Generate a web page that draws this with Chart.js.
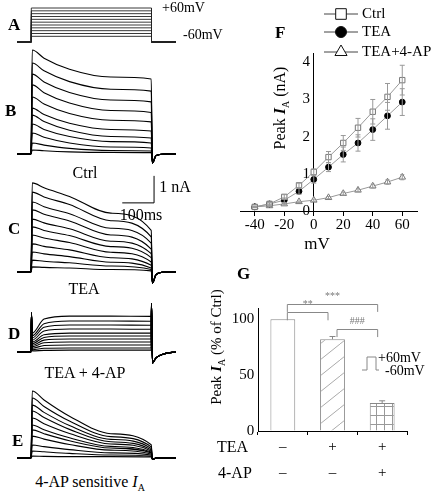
<!DOCTYPE html>
<html>
<head>
<meta charset="utf-8">
<script src="https://cdn.jsdelivr.net/npm/chart.js@4.4.1/dist/chart.umd.min.js"></script>
<style>
  html, body { margin: 0; padding: 0; background: #fff; }
  #fig { position: relative; width: 435px; height: 503px; overflow: hidden; font-family: 'Liberation Serif', 'Times New Roman', serif; color: #000; }
  #fig div { font-family: 'Liberation Serif', 'Times New Roman', serif; }
  #fig canvas { position: absolute; }
  .t { position: absolute; white-space: nowrap; font-size: 16px; line-height: 1; transform: translate(-50%, -50%); }
  .l { position: absolute; white-space: nowrap; font-size: 14px; line-height: 1; transform: translate(0, -50%); }
  .p { position: absolute; font-weight: bold; font-size: 17px; line-height: 1; transform: translate(0, -50%); }
  .yt { position: absolute; white-space: nowrap; font-size: 16px; line-height: 1; transform: translate(-50%, -50%) rotate(-90deg); }
  sub { font-size: 10px; vertical-align: -4px; line-height: 0; }
</style>
</head>
<body>
<div id="fig">
  <canvas id="cA"></canvas>
  <canvas id="cB"></canvas>
  <canvas id="cC"></canvas>
  <canvas id="cD"></canvas>
  <canvas id="cE"></canvas>
  <canvas id="cF"></canvas>
  <canvas id="cG"></canvas>

  <!-- panel letters -->
  <div class="p" style="left:8px;top:24px">A</div>
  <div class="p" style="left:5px;top:110px">B</div>
  <div class="p" style="left:8px;top:228px">C</div>
  <div class="p" style="left:8px;top:333px">D</div>
  <div class="p" style="left:12px;top:440px">E</div>
  <div class="p" style="left:275px;top:32px">F</div>
  <div class="p" style="left:237px;top:273px">G</div>

  <!-- left column text -->
  <div class="l" style="left:162px;top:8px">+60mV</div>
  <div class="l" style="left:183px;top:35px">-60mV</div>
  <div class="t" style="left:85px;top:173px">Ctrl</div>
  <div class="t" style="left:175px;top:187px">1 nA</div>
  <div class="t" style="left:141px;top:215px">100ms</div>
  <div class="t" style="left:84px;top:289px">TEA</div>
  <div class="t" style="left:85px;top:373px">TEA + 4-AP</div>
  <div class="t" style="left:90px;top:482px">4-AP sensitive <i>I</i><sub>A</sub></div>

  <!-- F / G titles -->
  <div class="yt" style="left:280px;top:108px">Peak <b><i>I</i></b><sub>A</sub> (nA)</div>
  <div class="t" style="left:317px;top:243px;font-size:17px">mV</div>
  <div class="yt" style="left:216px;top:347px;font-size:15px">Peak <b><i>I</i></b><sub>A</sub> (% of Ctrl)</div>
  <div class="l" style="left:217px;top:447px;font-size:16px">TEA</div>
  <div class="l" style="left:218px;top:473px;font-size:16px">4-AP</div>

  <!-- G inset protocol -->
  <svg style="position:absolute;left:0;top:0" width="435" height="503">
    <polyline points="362,370 367,370 367,357 376,357 376,370 379,370" fill="none" stroke="#888" stroke-width="1"/>
  </svg>
  <div class="l" style="left:378px;top:358px">+60mV</div>
  <div class="l" style="left:385px;top:371px">-60mV</div>
</div>

<script>
// ---------- data ----------
const STEP_MV = [-40, -30, -20, -10, 0, 10, 20, 30, 40, 50, 60];
const HOLD_MV = -60;
const STEP_ON = 0, STEP_OFF = 378;        // ms
const T_START = -45, T_END = 455;         // ms shown in A-E
const SAMPLE_T = [3, 40, 120, 250, 377];  // ms where currents were read
const TAIL_T = [381, 392, 420];

// currents (nA) at SAMPLE_T, one row per step (STEP_MV order)
const ctrlTraces = [
  [0.15, 0.12, 0.08, 0.06, 0.05],
  [0.41, 0.33, 0.21, 0.13, 0.11],
  [0.78, 0.62, 0.41, 0.26, 0.22],
  [1.11, 0.91, 0.65, 0.46, 0.41],
  [1.44, 1.20, 0.88, 0.65, 0.59],
  [1.70, 1.46, 1.14, 0.91, 0.85],
  [2.11, 1.85, 1.50, 1.25, 1.19],
  [2.56, 2.27, 1.89, 1.61, 1.54],
  [2.96, 2.67, 2.28, 2.00, 1.93],
  [3.37, 3.08, 2.68, 2.40, 2.33],
  [3.85, 3.55, 3.14, 2.85, 2.78]
];
const teaTraces = [
  [0.19, 0.17, 0.15, 0.09, 0.04],
  [0.44, 0.40, 0.34, 0.22, 0.09],
  [0.74, 0.67, 0.57, 0.36, 0.15],
  [1.04, 0.95, 0.82, 0.53, 0.25],
  [1.37, 1.26, 1.09, 0.73, 0.37],
  [1.67, 1.54, 1.35, 0.94, 0.53],
  [1.96, 1.82, 1.60, 1.14, 0.68],
  [2.30, 2.14, 1.89, 1.37, 0.85],
  [2.59, 2.42, 2.16, 1.62, 1.07],
  [2.96, 2.78, 2.50, 1.90, 1.30],
  [3.30, 3.12, 2.80, 2.18, 1.54]
];
const tea4apTraces = [
  [0.04, 0.06, 0.07, 0.07, 0.07],
  [0.08, 0.14, 0.15, 0.15, 0.15],
  [0.14, 0.24, 0.26, 0.26, 0.26],
  [0.20, 0.34, 0.37, 0.37, 0.37],
  [0.25, 0.44, 0.48, 0.48, 0.48],
  [0.31, 0.54, 0.59, 0.59, 0.59],
  [0.37, 0.64, 0.70, 0.70, 0.70],
  [0.44, 0.78, 0.85, 0.85, 0.84],
  [0.52, 0.92, 1.00, 1.00, 0.99],
  [0.60, 1.05, 1.15, 1.15, 1.14],
  [0.70, 1.22, 1.33, 1.33, 1.32]
];
const sensTraces = [
  [0.07, 0.06, 0.05, 0.05, 0.04],
  [0.26, 0.23, 0.17, 0.11, 0.07],
  [0.48, 0.42, 0.31, 0.19, 0.11],
  [0.81, 0.70, 0.50, 0.29, 0.15],
  [1.04, 0.90, 0.64, 0.37, 0.19],
  [1.22, 1.05, 0.75, 0.43, 0.22],
  [1.48, 1.27, 0.91, 0.52, 0.26],
  [1.74, 1.50, 1.06, 0.60, 0.30],
  [1.96, 1.69, 1.20, 0.69, 0.35],
  [2.22, 1.91, 1.37, 0.79, 0.41],
  [2.48, 2.15, 1.55, 0.90, 0.49]
];
const ctrlTail = [-0.33, -0.06, 0];
const teaTail = [-0.41, -0.10, 0];
const tea4apTail = [-0.41, -0.22, -0.06];
const sensTail = [-0.05, 0, 0];
const tea4apCap = [1.45, 1.8];   // capacitive transients at step on / off

// panel F: peak I_A (nA) vs step potential
const ctrlPeak = [0.11, 0.19, 0.38, 0.69, 1.05, 1.45, 1.83, 2.24, 2.67, 3.07, 3.52];
const ctrlErr = [0.02, 0.03, 0.06, 0.06, 0.08, 0.15, 0.20, 0.25, 0.33, 0.36, 0.40];
const teaPeak = [0.11, 0.19, 0.29, 0.53, 0.85, 1.18, 1.52, 1.83, 2.19, 2.56, 2.93];
const teaErr = [0.02, 0.03, 0.06, 0.08, 0.10, 0.12, 0.20, 0.22, 0.29, 0.36, 0.36];
const tea4apPeak = [0.11, 0.14, 0.19, 0.25, 0.29, 0.36, 0.47, 0.56, 0.67, 0.78, 0.91];
const tea4apErr = [0.01, 0.02, 0.02, 0.02, 0.03, 0.03, 0.04, 0.04, 0.05, 0.06, 0.07];
const FX_TICKS = [-40, -20, 0, 20, 40, 60];
const FY_TICKS = [0, 1, 2, 3, 4];

// panel G: peak I_A (% of Ctrl)
const teaRow = ['\u2013', '+', '+'];
const apRow = ['\u2013', '\u2013', '+'];
const gPeak = [100, 82, 25];
const gErr = [0, 2.5, 2];
const GY_TICKS = [0, 50, 100];
const sigPairs = [
  { from: 0, to: 2, y: 114, leg: 106.5, text: '***' },
  { from: 0, to: 1, y: 106, leg: 99, text: '**' },
  { from: 1, to: 2, y: 91, leg: 84, text: '###' }
];
const SCALE_BAR = { t: 386, ms: 100, i: 2.56, nA: 1 };

// ---------- layout ----------
const SERIF = "'Liberation Serif', 'Times New Roman', serif";
Chart.defaults.font.family = SERIF;
Chart.defaults.color = '#000';

const PX_PER_NA = 27;
const TRACE_LEFT = 17, TRACE_W = 159;

function placeCanvas(id, left, top, w, h) {
  const c = document.getElementById(id);
  c.width = w; c.height = h;
  c.style.left = left + 'px'; c.style.top = top + 'px';
  c.style.width = w + 'px'; c.style.height = h + 'px';
  return c;
}

const baseOpts = (yMin, yMax) => ({
  responsive: false,
  animation: false,
  events: [],
  layout: { padding: 0 },
  plugins: { legend: { display: false }, tooltip: { enabled: false } },
  scales: {
    x: { type: 'linear', display: false, min: T_START, max: T_END },
    y: { type: 'linear', display: false, min: yMin, max: yMax }
  }
});

// A: voltage protocol
const protoSets = STEP_MV.map(v => ({
  data: [
    { x: T_START, y: HOLD_MV }, { x: STEP_ON, y: HOLD_MV }, { x: STEP_ON, y: v },
    { x: STEP_OFF, y: v }, { x: STEP_OFF, y: HOLD_MV }, { x: T_END, y: HOLD_MV }
  ],
  borderColor: '#222', borderWidth: 0.9, pointRadius: 0, tension: 0, clip: false
}));
const optsA = baseOpts(-60, 60);
optsA.layout.padding = { top: 2, bottom: 2 };
new Chart(placeCanvas('cA', TRACE_LEFT, 6, TRACE_W, 38), { type: 'line', data: { datasets: protoSets }, options: optsA });

// B-E: current traces
function traceSets(rows, tail, cap) {
  return rows.map(r => {
    const pts = [{ x: T_START, y: 0 }, { x: STEP_ON - 1, y: 0 }];
    if (cap) pts.push({ x: STEP_ON + 0.5, y: cap[0] });
    SAMPLE_T.forEach((t, i) => pts.push({ x: t, y: r[i] }));
    if (cap) pts.push({ x: STEP_OFF, y: cap[1] });
    TAIL_T.forEach((t, i) => pts.push({ x: t, y: tail[i] }));
    pts.push({ x: T_END, y: 0 });
    return { data: pts, borderColor: '#000', borderWidth: 1.1, pointRadius: 0,
             cubicInterpolationMode: 'monotone', clip: false };
  });
}

const scaleBar = {
  id: 'scaleBar',
  afterDraw(chart) {
    const { ctx, scales: { x, y } } = chart;
    const x0 = x.getPixelForValue(SCALE_BAR.t - SCALE_BAR.ms), x1 = x.getPixelForValue(SCALE_BAR.t);
    const y0 = y.getPixelForValue(SCALE_BAR.i), y1 = y.getPixelForValue(SCALE_BAR.i + SCALE_BAR.nA);
    ctx.save();
    ctx.strokeStyle = '#000'; ctx.lineWidth = 1;
    ctx.beginPath(); ctx.moveTo(x0, y0); ctx.lineTo(x1, y0); ctx.lineTo(x1, y1); ctx.stroke();
    ctx.restore();
  }
};

const tracePanels = [
  { id: 'cB', base: 154, top: 44, bottom: 172, rows: ctrlTraces, tail: ctrlTail },
  { id: 'cC', base: 272, top: 172, bottom: 292, rows: teaTraces, tail: teaTail, plugins: [scaleBar] },
  { id: 'cD', base: 352, top: 296, bottom: 372, rows: tea4apTraces, tail: tea4apTail, cap: tea4apCap },
  { id: 'cE', base: 458, top: 384, bottom: 470, rows: sensTraces, tail: sensTail }
];
tracePanels.forEach(p => {
  const yMax = (p.base - p.top) / PX_PER_NA;
  const yMin = (p.base - p.bottom) / PX_PER_NA;
  new Chart(placeCanvas(p.id, TRACE_LEFT, p.top, TRACE_W, p.bottom - p.top), {
    type: 'line',
    data: { datasets: traceSets(p.rows, p.tail, p.cap) },
    options: baseOpts(yMin, yMax),
    plugins: p.plugins || []
  });
});

// ---------- error bars (F and G) ----------
const errorBars = {
  id: 'errorBars',
  afterDatasetsDraw(chart) {
    const ctx = chart.ctx;
    const yScale = chart.scales.y;
    chart.data.datasets.forEach((ds, di) => {
      if (!ds.err) return;
      const meta = chart.getDatasetMeta(di);
      meta.data.forEach((el, i) => {
        const e = ds.err[i];
        if (!e) return;
        const v = typeof ds.data[i] === 'object' ? ds.data[i].y : ds.data[i];
        const top = yScale.getPixelForValue(v + e);
        const bot = ds.errUp ? el.y : yScale.getPixelForValue(v - e);
        ctx.save();
        ctx.strokeStyle = ds.errColor || '#999'; ctx.lineWidth = 1;
        ctx.beginPath();
        ctx.moveTo(el.x, top); ctx.lineTo(el.x, bot);
        ctx.moveTo(el.x - ds.capW, top); ctx.lineTo(el.x + ds.capW, top);
        if (!ds.errUp) { ctx.moveTo(el.x - ds.capW, bot); ctx.lineTo(el.x + ds.capW, bot); }
        ctx.stroke();
        ctx.restore();
      });
    });
  }
};

// ---------- F ----------
const LEGEND_Y = [14, 32, 52];
const fLegend = {
  id: 'fLegend',
  afterDraw(chart) {
    const ctx = chart.ctx;
    chart.data.datasets.forEach((ds, i) => {
      const y = LEGEND_Y[i];
      ctx.save();
      ctx.strokeStyle = '#444'; ctx.lineWidth = 1;
      ctx.beginPath(); ctx.moveTo(94, y); ctx.lineTo(128, y); ctx.stroke();
      ctx.fillStyle = ds.pointBackgroundColor;
      ctx.strokeStyle = '#111';
      Chart.helpers.drawPoint(ctx, { pointStyle: ds.pointStyle, radius: ds.legendRadius, borderWidth: 1, rotation: 0 }, 111, y);
      ctx.fillStyle = '#000';
      ctx.font = '15px ' + SERIF;
      ctx.textBaseline = 'middle';
      ctx.fillText(ds.label, 132, y);
      ctx.restore();
    });
  }
};

const mkPts = arr => STEP_MV.map((v, i) => ({ x: v, y: arr[i] }));
new Chart(placeCanvas('cF', 230, 0, 205, 262), {
  type: 'line',
  data: {
    datasets: [
      { label: 'Ctrl', data: mkPts(ctrlPeak), err: ctrlErr, capW: 2.5,
        borderColor: '#999', borderWidth: 1, pointStyle: 'rect', pointRadius: 3.8, legendRadius: 7.5,
        pointBackgroundColor: '#fff', pointBorderColor: '#777', pointBorderWidth: 1 },
      { label: 'TEA', data: mkPts(teaPeak), err: teaErr, capW: 2.5,
        borderColor: '#999', borderWidth: 1, pointStyle: 'circle', pointRadius: 2.9, legendRadius: 5.5,
        pointBackgroundColor: '#000', pointBorderColor: '#000', pointBorderWidth: 1 },
      { label: 'TEA+4-AP', data: mkPts(tea4apPeak), err: tea4apErr, capW: 2,
        borderColor: '#999', borderWidth: 1, pointStyle: 'triangle', pointRadius: 3.8, legendRadius: 7,
        pointBackgroundColor: '#fff', pointBorderColor: '#777', pointBorderWidth: 1 }
    ]
  },
  options: {
    responsive: false, animation: false, events: [],
    layout: { padding: { left: 10, right: 18, top: 53, bottom: 51 } },
    plugins: { legend: { display: false }, tooltip: { enabled: false } },
    scales: {
      x: {
        type: 'linear', min: -50, max: 70, position: { y: 0 },
        afterBuildTicks: s => { s.ticks = FX_TICKS.map(v => ({ value: v })); },
        grid: { drawOnChartArea: false, tickLength: 4, color: '#000' },
        border: { color: '#000', width: 1 },
        ticks: { padding: 1, font: { family: SERIF, size: 15 }, maxRotation: 0 }
      },
      y: {
        type: 'linear', min: 0, max: 4.25, position: { x: 0 },
        afterBuildTicks: s => { s.ticks = FY_TICKS.map(v => ({ value: v })); },
        grid: { drawOnChartArea: false, drawTicks: false },
        border: { color: '#000', width: 1 },
        ticks: { font: { family: SERIF, size: 15 }, callback: v => v + ' ' }
      }
    }
  },
  plugins: [errorBars, fLegend]
});

// ---------- G ----------
function hatchPattern() {
  const c = document.createElement('canvas');
  c.width = 20; c.height = 16;
  const x = c.getContext('2d');
  x.fillStyle = '#fff'; x.fillRect(0, 0, 20, 16);
  x.strokeStyle = '#aaa'; x.lineWidth = 1;
  x.beginPath();
  x.moveTo(-20, 16); x.lineTo(0, 0);
  x.moveTo(0, 16); x.lineTo(20, 0);
  x.moveTo(20, 16); x.lineTo(40, 0);
  x.stroke();
  return x.createPattern(c, 'repeat');
}
function gridPattern() {
  const c = document.createElement('canvas');
  c.width = 8; c.height = 9;
  const x = c.getContext('2d');
  x.fillStyle = '#fff'; x.fillRect(0, 0, 8, 9);
  x.strokeStyle = '#999'; x.lineWidth = 1;
  x.beginPath(); x.moveTo(0.5, 0); x.lineTo(0.5, 9); x.moveTo(0, 0.5); x.lineTo(8, 0.5); x.stroke();
  return x.createPattern(c, 'repeat');
}

const sigBrackets = {
  id: 'sigBrackets',
  afterDraw(chart) {
    const { ctx, scales: { x, y } } = chart;
    ctx.save();
    ctx.strokeStyle = '#888'; ctx.fillStyle = '#777'; ctx.lineWidth = 1;
    ctx.font = '10px ' + SERIF;
    ctx.textAlign = 'center'; ctx.textBaseline = 'middle';
    sigPairs.forEach(s => {
      const x0 = x.getPixelForValue(s.from) + 4.5, x1 = x.getPixelForValue(s.to) - 4.5;
      const yt = Math.round(y.getPixelForValue(s.y)) + 0.5, yl = y.getPixelForValue(s.leg);
      ctx.beginPath();
      ctx.moveTo(x0, yl); ctx.lineTo(x0, yt); ctx.lineTo(x1, yt); ctx.lineTo(x1, yl);
      ctx.stroke();
      ctx.fillText(s.text, (x0 + x1) / 2, yt - 8);
    });
    ctx.restore();
  }
};

new Chart(placeCanvas('cG', 200, 280, 235, 223), {
  type: 'bar',
  data: {
    labels: teaRow.map((t, i) => [t, apRow[i]]),
    datasets: [{
      data: gPeak, err: gErr, errUp: true, capW: 3, errColor: '#888',
      backgroundColor: ['#fff', hatchPattern(), gridPattern()],
      borderColor: '#888', borderWidth: 1,
      barPercentage: 0.5, categoryPercentage: 1
    }]
  },
  options: {
    responsive: false, animation: false, events: [],
    layout: { padding: { left: 58, right: 28, top: 28, bottom: 72 } },
    plugins: { legend: { display: false }, tooltip: { enabled: false } },
    scales: {
      x: {
        position: { y: 0 },
        grid: { drawOnChartArea: false, tickLength: 3, color: '#000' },
        border: { color: '#000', width: 1 },
        ticks: { padding: 0, font: { family: SERIF, size: 15, lineHeight: '26px' }, maxRotation: 0 }
      },
      y: {
        min: 0, max: 110, position: { x: -0.5 },
        afterBuildTicks: s => { s.ticks = GY_TICKS.map(v => ({ value: v })); },
        grid: { drawOnChartArea: false, drawTicks: false },
        border: { color: '#000', width: 1 },
        ticks: { font: { family: SERIF, size: 15 }, callback: v => v + ' ' }
      }
    }
  },
  plugins: [errorBars, sigBrackets]
});
</script>
</body>
</html>
